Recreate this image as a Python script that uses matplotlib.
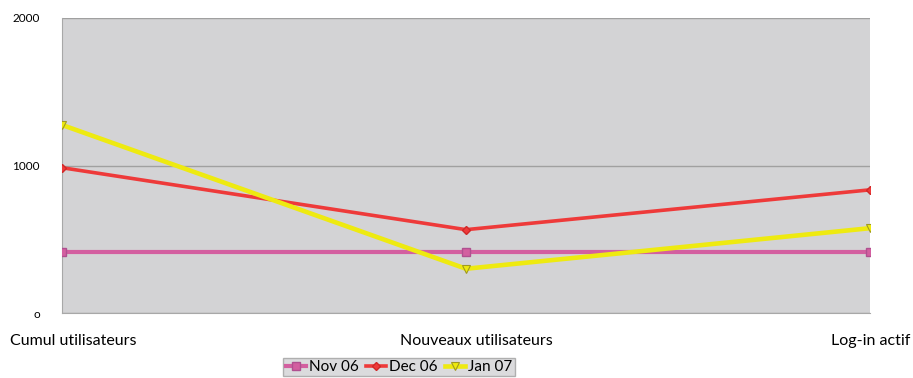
import matplotlib
matplotlib.use("Agg")
import matplotlib.pyplot as plt

categories = ["Cumul utilisateurs", "Nouveaux utilisateurs", "Log-in actif"]
nov_06 = [415, 415, 415]
dec_06 = [985, 565, 835]
jan_07 = [1275, 300, 575]
yticks = [0, 1000, 2000]
ytick_labels = ["o", "1000", "2000"]

plt.rcParams['font.family'] = ['Lato', 'DejaVu Sans']

fig = plt.figure(figsize=(9.13, 3.78), dpi=100)
ax = fig.add_axes([62 / 913, 1 - 313 / 378, (870 - 62) / 913, (313 - 18) / 378])
ax.set_facecolor("#d3d3d5")

x = list(range(len(categories)))
ax.plot(x, nov_06, color="#d35fa0", lw=3, marker="s", ms=5.5,
        mec="#b05090", mfc="#d35fa0", label="Nov 06", zorder=3)
ax.plot(x, dec_06, color="#ee3a3a", lw=2.6, marker="D", ms=4,
        mec="#d02828", label="Dec 06", zorder=4)
ax.plot(x, jan_07, color="#eeea10", lw=3.3, marker="v", ms=5.5,
        mec="#a09a20", mfc="#eeea10", mew=0.8, label="Jan 07", zorder=5)

ax.set_xlim(0, 2)
ax.set_ylim(0, 2000)
ax.set_yticks(yticks)
ax.set_yticklabels(ytick_labels, fontsize=8.5)
ax.yaxis.grid(True, color="#a0a0a0", lw=1)
ax.set_axisbelow(True)
ax.set_xticks([])
ax.tick_params(axis="both", length=0)
ax.tick_params(axis="y", pad=16)
for side in ["top", "right"]:
    ax.spines[side].set_visible(False)
for side in ["left", "bottom"]:
    ax.spines[side].set_color("#a8a8a8")

# category labels under the axis, pulled inside the figure at the ends
label_x = [10 / 913, 476 / 913, 910 / 913]
label_ha = ["left", "center", "right"]
for lx, ha, name in zip(label_x, label_ha, categories):
    fig.text(lx, 1 - 341 / 378, name, ha=ha, va="center", fontsize=11.5)

leg = fig.legend(*ax.get_legend_handles_labels(), loc="center",
                 bbox_to_anchor=(399 / 913, 1 - 367 / 378), ncol=3,
                 fontsize=11, frameon=True, fancybox=False, handlelength=1.3,
                 handletextpad=0.2, columnspacing=0.5, borderpad=0.15,
                 borderaxespad=0)
leg.get_frame().set_facecolor("#d3d3d5")
leg.get_frame().set_edgecolor("#a0a0a0")

fig.savefig("out.png", dpi=100)
